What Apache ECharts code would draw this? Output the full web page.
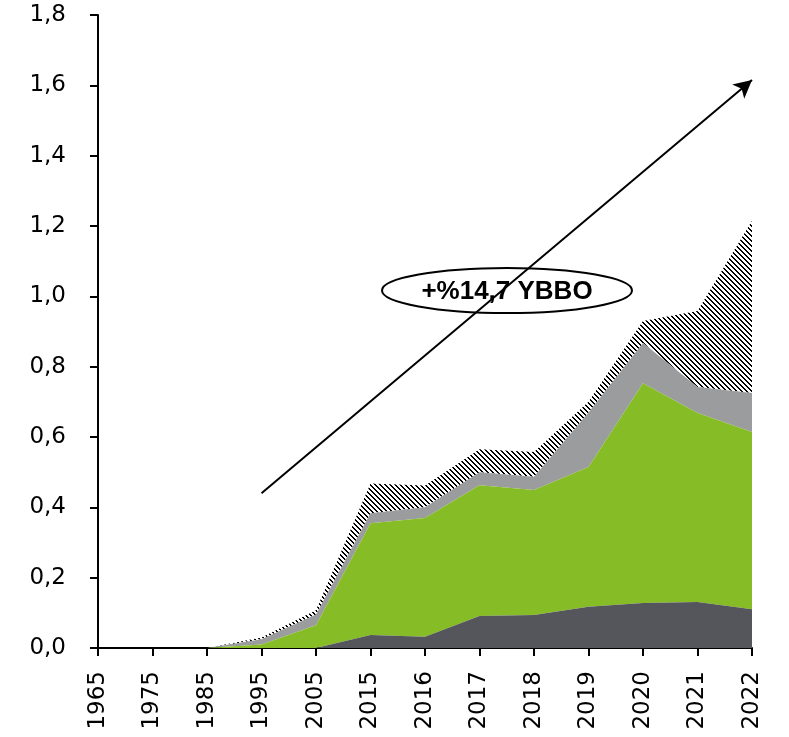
<!DOCTYPE html>
<html><head><meta charset="utf-8">
<script src="https://cdn.jsdelivr.net/npm/echarts@6/dist/echarts.min.js"></script>
<style>html,body{margin:0;padding:0;background:#fff}#c{width:789px;height:737px}</style>
</head><body><div id="c"></div>
<script>
const categories = ['1965','1975','1985','1995','2005','2015','2016','2017','2018','2019','2020','2021','2022'];
const seriesDark  = [0,0,0,0,0,0.037,0.032,0.091,0.094,0.117,0.128,0.131,0.110];
const seriesGreen = [0,0,0,0.010,0.065,0.318,0.338,0.372,0.355,0.398,0.625,0.537,0.504];
const seriesGray  = [0,0,0,0.015,0.030,0.028,0.030,0.037,0.038,0.155,0.114,0.074,0.111];
const seriesHatch = [0,0,0,0.005,0.012,0.085,0.062,0.065,0.070,0.030,0.063,0.216,0.490];
const annotationText = '+%14,7 YBBO';
const arrowStart = ['1995', 0.44];
const arrowEnd = ['2022', 1.615];

// hatch pattern: diagonal "\" stripes
const pc = document.createElement('canvas');
pc.width = 5; pc.height = 5;
const pctx = pc.getContext('2d');
pctx.fillStyle = '#fff'; pctx.fillRect(0,0,5,5);
pctx.fillStyle = '#000';
for (let i = 0; i < 5; i++) { pctx.fillRect(i, i, 1, 1); pctx.fillRect((i + 1) % 5, i, 1, 1); }

const chart = echarts.init(document.getElementById('c'));
const font = 'DejaVu Sans';
function mk(name, data, color, z) {
  return { name, type: 'line', stack: 'a', data, symbol: 'none',
    lineStyle: { width: 0 }, areaStyle: { color, opacity: 1 }, z };
}
chart.setOption({
  animation: false,
  grid: { left: 98, right: 37, top: 15, bottom: 89 },
  xAxis: {
    type: 'category', data: categories, boundaryGap: false,
    axisLine: { lineStyle: { color: '#000', width: 2 } },
    axisTick: { show: true, length: 8, lineStyle: { color: '#000', width: 2 }, alignWithLabel: true },
    axisLabel: { rotate: 90, color: '#000', fontSize: 23, fontFamily: font, margin: 23, interval: 0 },
    splitLine: { show: false }
  },
  yAxis: {
    type: 'value', min: 0, max: 1.8, interval: 0.2,
    axisLine: { show: true, lineStyle: { color: '#000', width: 2 } },
    axisTick: { show: true, length: 8, lineStyle: { color: '#000', width: 2 } },
    axisLabel: { color: '#000', fontSize: 23, fontFamily: font, margin: 32,
      formatter: v => v.toFixed(1).replace('.', ',') },
    splitLine: { show: false }
  },
  series: [
    mk('A', seriesDark, '#54565b', 4),
    mk('B', seriesGreen, '#86bc25', 3),
    mk('C', seriesGray, '#9b9c9e', 2),
    Object.assign(mk('D', seriesHatch, { image: pc, repeat: 'repeat' }, 1), {
      markLine: {
        silent: true, symbol: ['none', 'arrow'], symbolSize: [14, 18],
        lineStyle: { color: '#000', width: 2, type: 'solid' },
        label: { show: false },
        data: [[{ coord: arrowStart }, { coord: arrowEnd }]]
      }
    })
  ],
  graphic: [{
    type: 'group', left: 381, top: 267, z: 100,
    children: [
      { type: 'ellipse', shape: { cx: 126, cy: 23, rx: 125, ry: 22.5 },
        style: { fill: '#fff', stroke: '#000', lineWidth: 2 } },
      { type: 'text', x: 126, y: 24,
        style: { text: annotationText, fill: '#000', font: 'bold 26px "Liberation Sans"',
          align: 'center', verticalAlign: 'middle' } }
    ]
  }]
});
</script></body></html>
